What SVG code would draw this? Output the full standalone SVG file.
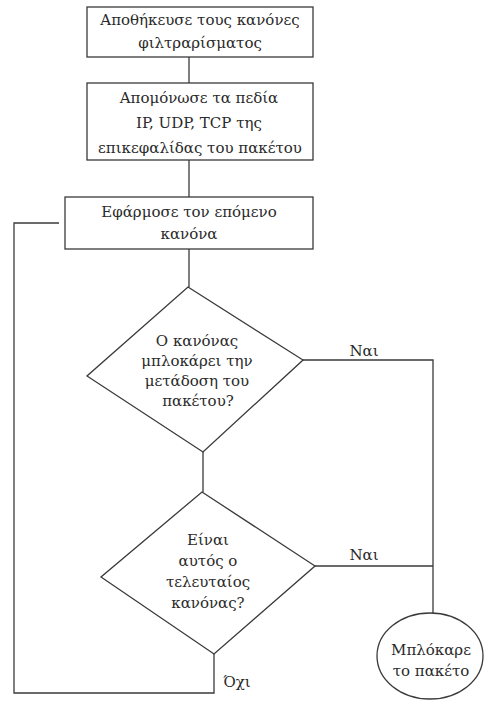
<svg xmlns="http://www.w3.org/2000/svg" width="484" height="705" viewBox="0 0 484 705">
  <style>
    .shape { fill: #ffffff; stroke: #3a3a3a; stroke-width: 1.3; }
    .wire { fill: none; stroke: #3a3a3a; stroke-width: 1.3; }
    text { font-family: "DejaVu Serif", "Liberation Serif", serif; font-size: 15px; fill: #2a2a2a; text-anchor: middle; }
  </style>
  <rect width="484" height="705" fill="#ffffff"/>

  <!-- connectors -->
  <g id="connectors">
    <polyline class="wire" points="189,57 189,83"/>
    <polyline class="wire" points="189,160 189,197"/>
    <polyline class="wire" points="189,249 189,287"/>
    <polyline class="wire" points="203,452 203,492"/>
    <!-- yes branches to the block terminal -->
    <polyline class="wire" points="303,360 433,360 433,613"/>
    <polyline class="wire" points="315,566 433,566"/>
    <!-- no branch loops back to the next rule -->
    <polyline class="wire" points="214,654 214,693 14,693 14,223 59,223"/>
  </g>

  <g id="store-rules">
    <rect class="shape" x="87" y="7" width="226" height="50"/>
    <text x="200" y="25">Αποθήκευσε τους κανόνες</text>
    <text x="200" y="48">φιλτραρίσματος</text>
  </g>

  <g id="isolate-fields">
    <rect class="shape" x="87" y="83" width="226" height="77"/>
    <text x="199" y="103">Απομόνωσε τα πεδία</text>
    <text x="199" y="128">IP, UDP, TCP της</text>
    <text x="200" y="153">επικεφαλίδας του πακέτου</text>
  </g>

  <g id="apply-rule">
    <rect class="shape" x="65" y="197" width="248" height="52"/>
    <text x="189" y="217">Εφάρμοσε τον επόμενο</text>
    <text x="189" y="239">κανόνα</text>
  </g>

  <g id="rule-blocks">
    <polygon class="shape" points="188,287 303,360 203,452 87,376"/>
    <text x="197" y="346">Ο κανόνας</text>
    <text x="197" y="366">μπλοκάρει την</text>
    <text x="197" y="386">μετάδοση του</text>
    <text x="198" y="406">πακέτου?</text>
    <text x="364" y="356">Ναι</text>
  </g>

  <g id="last-rule">
    <polygon class="shape" points="202,492 315,566 214,654 101,577"/>
    <text x="208" y="545">Είναι</text>
    <text x="208" y="566">αυτός ο</text>
    <text x="208" y="587">τελευταίος</text>
    <text x="208" y="608">κανόνας?</text>
    <text x="364" y="560">Ναι</text>
    <text x="237" y="687">Όχι</text>
  </g>

  <g id="block-packet">
    <ellipse class="shape" cx="430" cy="656" rx="53" ry="43"/>
    <text x="431" y="655">Μπλόκαρε</text>
    <text x="431" y="676">το πακέτο</text>
  </g>
</svg>
